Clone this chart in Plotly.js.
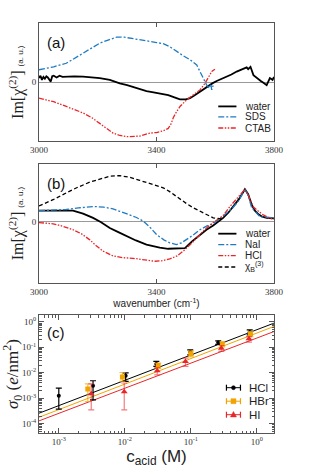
<!DOCTYPE html>
<html><head><meta charset="utf-8">
<script src="https://cdn.plot.ly/plotly-3.0.1.min.js"></script>
<style>html,body{margin:0;padding:0;background:#fff}#g{width:314px;height:472px}</style>
</head><body><div id="g"></div>
<script>
// ---------- Panel (a) ----------
const waterAWn = [3000,3005,3010,3015,3020,3025,3030,3040,3045,3050,3060,3070,3080,3093,3120,3150,3180,3207,3241,3275,3300,3320,3345,3366,3390,3411,3440,3468,3480,3500,3514,3530,3548,3562,3576,3590,3605,3620,3639,3655,3673,3690,3707,3712,3720,3730,3740,3747,3755,3764,3775,3786,3795,3800];
const waterA   = [0.07,0.11,0.04,0.09,0.06,0.10,0.08,0.01,0.10,0.11,0.08,0.11,0.09,0.095,0.10,0.095,0.08,0.07,0.04,-0.02,-0.05,-0.08,-0.11,-0.15,-0.17,-0.19,-0.22,-0.27,-0.29,-0.29,-0.27,-0.22,-0.16,-0.11,-0.06,-0.02,0.02,0.05,0.09,0.13,0.18,0.21,0.25,0.22,0.26,0.12,0.08,0.04,0.02,-0.01,-0.05,0.07,0.04,0.09];
const sdsWn = [3000,3050,3093,3120,3150,3180,3207,3240,3264,3290,3320,3350,3377,3400,3423,3445,3468,3490,3514,3537,3548,3559,3571,3580,3585,3588,3592,3596];
const sds   = [0.21,0.26,0.32,0.40,0.49,0.58,0.66,0.72,0.76,0.76,0.74,0.72,0.69,0.67,0.65,0.60,0.52,0.45,0.38,0.29,0.18,0.07,-0.05,-0.10,-0.03,-0.13,-0.06,-0.10];
const ctabWn = [3000,3050,3093,3120,3150,3180,3207,3230,3252,3275,3298,3320,3343,3377,3400,3423,3440,3450,3457,3468,3480,3502,3525,3548,3565,3576,3588,3599];
const ctab   = [-0.27,-0.33,-0.41,-0.46,-0.52,-0.60,-0.69,-0.78,-0.86,-0.90,-0.92,-0.92,-0.91,-0.86,-0.85,-0.82,-0.78,-0.70,-0.60,-0.50,-0.41,-0.30,-0.21,-0.13,-0.02,0.07,0.18,0.22];
const namesA = ['water','SDS','CTAB'];

// ---------- Panel (b) ----------
const waterBWn = [3000,3050,3116,3150,3184,3210,3241,3270,3298,3330,3366,3390,3411,3440,3457,3480,3497,3520,3548,3570,3593,3610,3627,3645,3661,3680,3701,3712,3724,3735,3747,3760,3775,3800];
const waterB   = [0.19,0.19,0.19,0.14,0.07,0.0,-0.10,-0.17,-0.24,-0.31,-0.38,-0.41,-0.43,-0.45,-0.45,-0.45,-0.44,-0.33,-0.21,-0.13,-0.06,0.0,0.07,0.16,0.26,0.38,0.55,0.47,0.29,0.19,0.13,0.09,0.07,0.06];
const naiWn = [3000,3050,3093,3140,3190,3220,3252,3275,3298,3330,3355,3380,3400,3425,3445,3468,3485,3502,3525,3548,3570,3593,3615,3639,3660,3680,3701,3712,3724,3740,3752,3775,3800];
const nai   = [0.19,0.20,0.21,0.24,0.26,0.25,0.22,0.18,0.14,0.08,0.015,-0.10,-0.21,-0.30,-0.35,-0.38,-0.35,-0.30,-0.22,-0.13,-0.07,-0.03,0.05,0.15,0.24,0.36,0.55,0.45,0.24,0.15,0.09,0.08,0.07];
const hclBWn = [3000,3048,3080,3116,3145,3173,3195,3218,3252,3285,3320,3360,3395,3420,3445,3470,3491,3515,3536,3560,3582,3605,3627,3650,3675,3701,3715,3730,3760,3786,3800];
const hclB   = [-0.01,-0.03,-0.07,-0.13,-0.20,-0.30,-0.40,-0.49,-0.57,-0.60,-0.61,-0.63,-0.66,-0.65,-0.62,-0.57,-0.49,-0.38,-0.27,-0.15,-0.05,0.03,0.11,0.26,0.40,0.55,0.42,0.25,0.13,0.06,0.05];
const chiBWn = [3000,3050,3093,3130,3173,3210,3241,3275,3310,3343,3370,3400,3425,3445,3470,3502,3525,3548,3570,3593,3622];
const chiB   = [0.27,0.38,0.49,0.58,0.67,0.73,0.77,0.78,0.75,0.70,0.66,0.62,0.57,0.51,0.42,0.31,0.24,0.18,0.12,0.07,0.05];
const namesB = ['water','NaI','HCl','χ<sub>B</sub><sup>(3)</sup>'];
const wnTicks = [3000,3400,3800];

// ---------- Panel (c) ----------
const cHCl = [0.001,0.0033,0.0103,0.030,0.098,0.26,0.78];
const sHCl = [0.00126,0.0031,0.0076,0.022,0.065,0.154,0.39];
const hiHCl = [0.0025,0.0049,0.010,0.028,0.080,0.18,0.48];
const loHCl = [0.00038,0.00087,0.0046,0.018,0.051,0.13,0.31];
const cHBr = [0.00275,0.0092,0.032,0.10,0.30,0.80];
const sHBr = [0.0023,0.0068,0.0194,0.056,0.134,0.33];
const hiHBr = [0.0037,0.0103,0.024,0.073,0.164,0.41];
const loHBr = [0.00075,0.0046,0.015,0.042,0.105,0.26];
const cHI = [0.0031,0.0098,0.031,0.083,0.29,0.76];
const sHI = [0.0015,0.0018,0.012,0.028,0.093,0.215];
const hiHI = [0.0037,0.0040,0.016,0.038,0.118,0.265];
const loHI = [0.00035,0.00035,0.0083,0.018,0.069,0.16];
const fitC = [0.0005,1.82];
const fitHCl = [0.00026,0.89];
const fitHBr = [0.00018,0.66];
const fitHI = [0.00013,0.417];
const namesC = ['HCl','HBr','HI'];
const logTicks = [0.0001,0.001,0.01,0.1,1];
const logTickText = ['10<sup>-4</sup>','10<sup>-3</sup>','10<sup>-2</sup>','10<sup>-1</sup>','10<sup>0</sup>'];

const BLACK='#000000', BLUE='#1f7bc2', RED='#e8262a', ORANGE='#f2a300';
const stylesA = [
  {color:BLACK,width:1.8,dash:'solid'},
  {color:BLUE,width:1.3,dash:'6px,2px,2px,2px'},
  {color:RED,width:1.3,dash:'5px,1.5px,1.5px,1.5px,1.5px,1.5px'}];
const stylesB = [
  {color:BLACK,width:1.8,dash:'solid'},
  {color:BLUE,width:1.3,dash:'6px,2px,2px,2px'},
  {color:RED,width:1.3,dash:'5px,1.5px,1.5px,1.5px,1.5px,1.5px'},
  {color:BLACK,width:1.3,dash:'4px,2.5px'}];
const colC = [BLACK,ORANGE,RED];
const errCol = [BLACK,'rgba(242,163,0,0.7)','rgba(232,38,42,0.6)'];
const symC = ['circle','square','triangle-up'];
const sizeC = [4,5,6];

const traces = [];
[[waterAWn,waterA],[sdsWn,sds],[ctabWn,ctab]].forEach((d,i)=>{
  traces.push({x:d[0],y:d[1],type:'scatter',mode:'lines',name:namesA[i],line:stylesA[i],xaxis:'x',yaxis:'y',showlegend:false});
});
[[waterBWn,waterB],[naiWn,nai],[hclBWn,hclB],[chiBWn,chiB]].forEach((d,i)=>{
  traces.push({x:d[0],y:d[1],type:'scatter',mode:'lines',name:namesB[i],line:stylesB[i],xaxis:'x2',yaxis:'y2',showlegend:false});
});
const fits=[fitHCl,fitHBr,fitHI];
fits.forEach((f,i)=>{
  traces.push({x:fitC,y:f,type:'scatter',mode:'lines',line:{color:colC[i],width:1},xaxis:'x3',yaxis:'y3',showlegend:false,hoverinfo:'skip'});
});
[[cHCl,sHCl,hiHCl,loHCl],[cHBr,sHBr,hiHBr,loHBr],[cHI,sHI,hiHI,loHI]].forEach((d,i)=>{
  traces.push({x:d[0],y:d[1],type:'scatter',mode:'markers',name:namesC[i],
    marker:{color:colC[i],symbol:symC[i],size:sizeC[i]},
    error_y:{type:'data',symmetric:false,array:d[2].map((v,k)=>v-d[1][k]),arrayminus:d[1].map((v,k)=>v-d[3][k]),color:errCol[i],thickness:1.2,width:3},
    xaxis:'x3',yaxis:'y3',showlegend:false});
});

function minorVals(lo,hi){const out=[];for(let d=lo;d<=hi;d++){for(let k=2;k<=9;k++)out.push(k*Math.pow(10,d));}return out;}

const FRAME='#555';
const tickFont={family:'Liberation Serif, DejaVu Serif, serif',size:9,color:'#333'};
const baseX={showline:true,linecolor:FRAME,linewidth:1,mirror:'allticks',ticks:'inside',ticklen:4,tickcolor:FRAME,showgrid:false,zeroline:false,tickfont:tickFont,
  tickmode:'array',tickvals:wnTicks,ticktext:wnTicks.map(String),range:[3000,3800]};
const baseY={showline:true,linecolor:FRAME,linewidth:1,mirror:true,ticks:'',showgrid:false,zeroline:true,zerolinecolor:'#999',zerolinewidth:1,
  tickfont:tickFont,tickmode:'array',tickvals:[0],ticktext:['0'],
  title:{text:'Im[χ<sup>(2)</sup>] <span style="font-family:Liberation Sans;font-size:8px">(a. u.)</span>',font:{family:'Liberation Serif, serif',size:16,color:'#222'},standoff:4}};

const layout={
  width:314,height:472,margin:{l:39.3,r:40,t:23.3,b:38.7},paper_bgcolor:'#fff',plot_bgcolor:'#fff',showlegend:false,
  xaxis:Object.assign({},baseX,{domain:[0,1],anchor:'y'}),
  yaxis:Object.assign({},baseY,{domain:[0.7112,1],anchor:'x',range:[-1.0,1.0]}),
  xaxis2:Object.assign({},baseX,{domain:[0,1],anchor:'y2',title:{text:'wavenumber (cm<sup>-1</sup>)',font:{family:'Liberation Sans, Arial, sans-serif',size:10,color:'#222'},standoff:2}}),
  yaxis2:Object.assign({},baseY,{domain:[0.3659,0.6561],anchor:'x2',range:[-1.025,0.975]}),
  xaxis3:{type:'log',domain:[0,1],anchor:'y3',range:[-3.30,0.26],showline:true,linecolor:FRAME,mirror:'allticks',ticks:'inside',ticklen:5,tickcolor:FRAME,showgrid:false,zeroline:false,
    tickmode:'array',tickvals:logTicks.slice(1),ticktext:logTickText.slice(1),tickfont:tickFont,
    minor:{tickmode:'array',tickvals:minorVals(-4,0),ticks:'inside',ticklen:2.5,tickcolor:FRAME,showgrid:false},
    title:{text:'c<sub>acid</sub> (M)',font:{family:'Liberation Sans, Arial, sans-serif',size:17,color:'#222'},standoff:0}},
  yaxis3:{type:'log',domain:[0,0.2873],anchor:'x3',range:[-4.36,0.26],showline:true,linecolor:FRAME,mirror:'allticks',ticks:'inside',ticklen:5,tickcolor:FRAME,showgrid:false,zeroline:false,
    tickmode:'array',tickvals:logTicks,ticktext:logTickText,tickfont:tickFont,
    minor:{tickmode:'array',tickvals:minorVals(-5,0),ticks:'inside',ticklen:2.5,tickcolor:FRAME,showgrid:false},
    title:{text:'<i>σ</i><sub>0</sub> (<i>e</i>/nm<sup>2</sup>)',font:{family:'Liberation Serif, serif',size:17,color:'#222'},standoff:4}},
  shapes:[],annotations:[]
};

// panel labels
[['(a)','x domain','y domain',0.836],['(b)','x2 domain','y2 domain',0.840],['(c)','x3 domain','y3 domain',0.857]].forEach(p=>{
  layout.annotations.push({text:p[0],xref:p[1],yref:p[2],x:0.026,y:p[3],xanchor:'left',yanchor:'middle',showarrow:false,font:{family:'Liberation Sans, Arial, sans-serif',size:15,color:'#111'}});
});
// legends (a),(b)
const legFont={family:'Liberation Sans, Arial, sans-serif',size:10,color:'#222'};
function lineLegend(names,styles,xr,yr,rows){
  names.forEach((n,i)=>{
    layout.shapes.push({type:'line',xref:xr,yref:yr,x0:0.7628,x1:0.8402,y0:rows[i],y1:rows[i],line:styles[i]});
    layout.annotations.push({text:n,xref:xr,yref:yr,x:0.866,y:rows[i],xanchor:'left',yanchor:'middle',showarrow:false,font:legFont});
  });
}
lineLegend(namesA,stylesA,'x domain','y domain',[0.2956,0.2069,0.1132]);
lineLegend(namesB,stylesB,'x2 domain','y2 domain',[0.4143,0.3218,0.2294,0.1345]);
// legend (c)
const rowsC=[0.3846,0.2699,0.1554];
const markerPaths=[null,null,'M-3,-2.2 L3,-2.2 L0,3.2 Z'];
namesC.forEach((n,i)=>{
  const r=rowsC[i];
  layout.shapes.push({type:'line',xref:'x3 domain',yref:'y3 domain',x0:0.7976,x1:0.8573,y0:r,y1:r,line:{color:colC[i],width:1}});
  [0.7976,0.8573].forEach(xc=>layout.shapes.push({type:'line',xref:'x3 domain',yref:'y3 domain',ysizemode:'pixel',yanchor:r,x0:xc,x1:xc,y0:-3,y1:3,line:{color:colC[i],width:1.2}}));
  const base={xref:'x3 domain',yref:'y3 domain',xsizemode:'pixel',ysizemode:'pixel',xanchor:0.8275,yanchor:r,fillcolor:colC[i],line:{color:colC[i],width:0.5}};
  if(i===0) layout.shapes.push(Object.assign({type:'circle',x0:-2,x1:2,y0:-2,y1:2},base));
  else if(i===1) layout.shapes.push(Object.assign({type:'rect',x0:-2.5,x1:2.5,y0:-2.5,y1:2.5},base));
  else layout.shapes.push(Object.assign({type:'path',path:markerPaths[i]},base));
  layout.annotations.push({text:n,xref:'x3 domain',yref:'y3 domain',x:0.885,y:r,xanchor:'left',yanchor:'middle',showarrow:false,font:{family:'Liberation Sans, Arial, sans-serif',size:11.5,color:'#222'}});
});

Plotly.newPlot('g',traces,layout,{staticPlot:true,displayModeBar:false});
</script></body></html>
